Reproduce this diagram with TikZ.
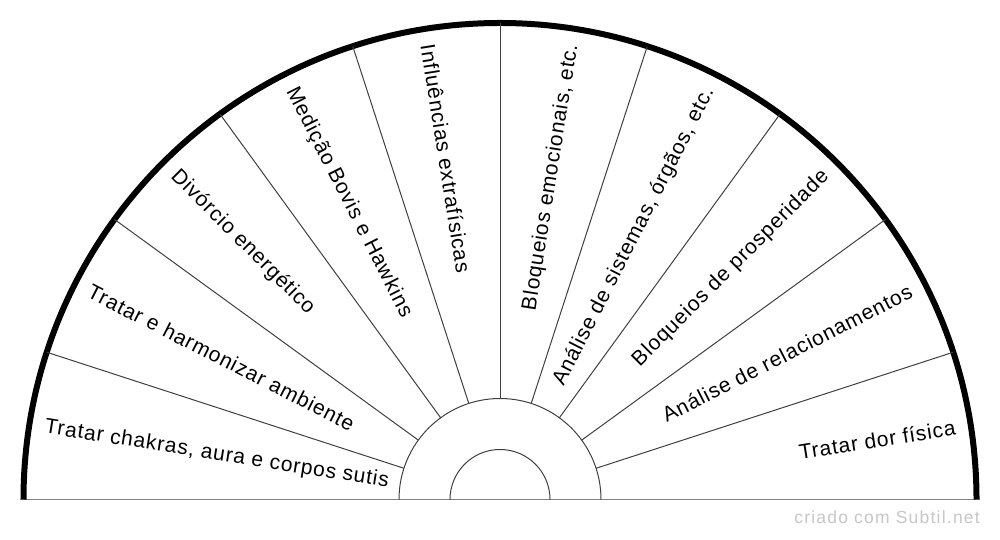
\documentclass[tikz,border=0pt]{standalone}
\usepackage{fontspec}
\setmainfont{Liberation Sans}
\newfontfamily\lblfont{Liberation Sans}[LetterSpace=4]
\newfontfamily\wmfont{Liberation Sans}[LetterSpace=7]
\begin{document}
\begin{tikzpicture}[x=1pt,y=1pt,
  spoke/.style={draw=black!75, line width=1pt},
  ring/.style={draw=black!75, line width=1pt},
  rim/.style={draw=black, line width=6pt},
  base/.style={draw=black!50, line width=1.5pt},
  lbl/.style={inner sep=0pt, text=black, font=\lblfont\fontsize{21}{21}\selectfont},
  rlbl/.style={lbl, anchor=east},
  llbl/.style={lbl, anchor=west},
  wmark/.style={inner sep=0pt, text=black!22, font=\wmfont\fontsize{17.5}{17.5}\selectfont, anchor=base east}
]
\useasboundingbox[fill=white] (0,0) rectangle (1000,540);
\begin{scope}[shift={(500,40.5)}]
  \coordinate (C) at (0,0);
  \draw[base] (-480,0) -- (480,0);
  \draw[rim] (-476.5,0) arc (180:0:476.5);
  \draw[ring] (-101,0) arc (180:0:101);
  \draw[ring] (-50,0) arc (180:0:50);
  \foreach \a in {18,36,...,162} \draw[spoke] (\a:101) -- (\a:476.5);
  \node[rlbl, rotate=9]  (l1)  at (9:461)   {Tratar dor física};
  \node[rlbl, rotate=27] (l2)  at (27:461)  {Análise de relacionamentos};
  \node[rlbl, rotate=45] (l3)  at (45:461)  {Bloqueios de prosperidade};
  \node[rlbl, rotate=63] (l4)  at (63:461)  {Análise de sistemas, órgãos, etc.};
  \node[rlbl, rotate=81] (l5)  at (81:461)  {Bloqueios emocionais, etc.};
  \node[llbl, rotate=-81] (l6) at (99:461)  {Influências extrafísicas};
  \node[llbl, rotate=-63] (l7) at (117:461) {Medição Bovis e Hawkins};
  \node[llbl, rotate=-45] (l8) at (135:461) {Divórcio energético};
  \node[llbl, rotate=-27] (l9) at (153:461) {Tratar e harmonizar ambiente};
  \node[llbl, rotate=-9] (l10) at (171:461) {Tratar chakras, aura e corpos sutis};
\end{scope}
\node[wmark] (wm) at (980,16) {criado com Subtil.net};
\end{tikzpicture}
\end{document}
